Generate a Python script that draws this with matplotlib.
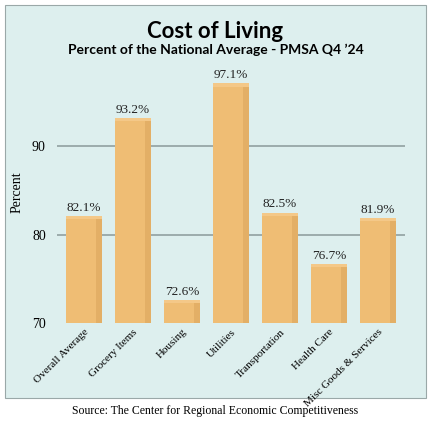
import matplotlib
matplotlib.use("Agg")
import matplotlib.pyplot as plt
from matplotlib.patches import Rectangle
import numpy as np

categories = ["Overall Average", "Grocery Items", "Housing", "Utilities",
              "Transportation", "Health Care", "Misc Goods & Services"]
values = [82.1, 93.2, 72.6, 97.1, 82.5, 76.7, 81.9]
yticks = [70, 80, 90]

serif = "Liberation Serif"
fig = plt.figure(figsize=(4.31, 4.23), dpi=100)
fig.patch.set_facecolor("white")
fig.add_artist(Rectangle((0.012, 0.06), 0.976, 0.928, transform=fig.transFigure,
                         facecolor="#ddefee", edgecolor="#9aa8a8", linewidth=0.8, zorder=0))

ax = fig.add_axes([0.132, 0.236, 0.808, 0.617])
ax.set_facecolor("none")
x = np.arange(len(categories))
w = 0.74
base = 70
ax.bar(x, np.array(values) - base, bottom=base, width=w, color="#efbd74", zorder=2)
# bevel: darker right strip and a faint lighter top strip
ax.bar(x + w / 2 - 0.06, np.array(values) - base - 0.35, bottom=base, width=0.12,
       color="#e3af66", zorder=3)
ax.bar(x, 0.35, bottom=np.array(values) - 0.35, width=w, color="#f4c888", zorder=3)

for xi, v in zip(x, values):
    ax.text(xi, v + 0.25, f"{v}%", ha="center", va="bottom", fontsize=9.5,
            family=serif, color="#222222")

ax.set_ylim(70, 99.5)
ax.set_xlim(-0.55, len(categories) - 0.45)
ax.set_yticks(yticks)
ax.set_yticklabels([str(t) for t in yticks], family=serif, fontsize=10)
for t in [80, 90]:
    ax.axhline(t, color="#8a9a9a", linewidth=1.1, zorder=1)
ax.tick_params(axis="both", length=0, pad=8)
ax.set_xticks(x)
ax.set_xticklabels(categories, rotation=45, ha="right", rotation_mode="anchor",
                   family=serif, fontsize=8)
ax.tick_params(axis="x", pad=3)
for s in ax.spines.values():
    s.set_visible(False)
ax.set_ylabel("Percent", family=serif, fontsize=10, labelpad=6)

fig.text(0.5, 0.91, "Cost of Living", ha="center", fontsize=16, fontweight="bold",
         family="Lato")
fig.text(0.5, 0.872, "Percent of the National Average - PMSA Q4 \u201924", ha="center",
         fontsize=10, fontweight="bold", family="Lato")
fig.text(0.5, 0.022, "Source: The Center for Regional Economic Competitiveness",
         ha="center", fontsize=8.5, family=serif)

fig.savefig("out.png", dpi=100, facecolor="white")
